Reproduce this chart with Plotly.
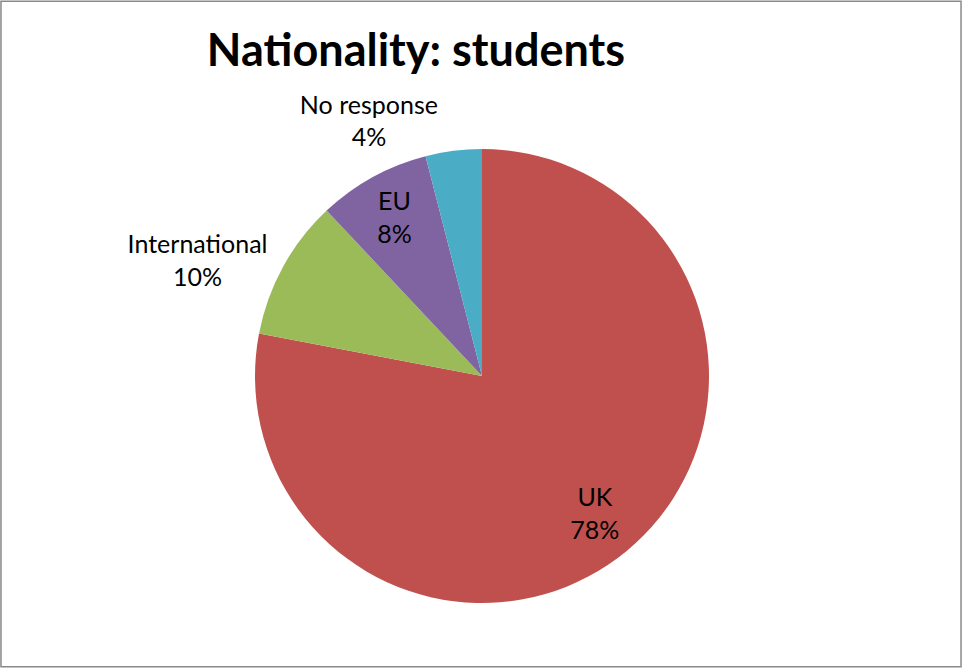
import plotly.graph_objects as go

categories = ["UK", "International", "EU", "No response"]
values = [78, 10, 8, 4]
colors = ["#C0504D", "#9BBB59", "#8064A2", "#4BACC6"]
text_positions = ["inside", "outside", "inside", "outside"]

W, H = 962, 668
cx, cy, r = 482, 376, 227
dom = dict(x=[(cx - r) / W, (cx + r) / W], y=[(H - cy - r) / H, (H - cy + r) / H])
font_family = "Lato, Open Sans, sans-serif"

# Coloured slices
fig = go.Figure(go.Pie(
    labels=categories, values=values, sort=False, direction="clockwise", rotation=0,
    marker=dict(colors=colors, line=dict(width=0)),
    textinfo="none", domain=dom, showlegend=False, hoverinfo="label+percent",
))
# Transparent ring carrying the data labels (so inside labels sit further out)
fig.add_trace(go.Pie(
    labels=categories, values=values, sort=False, direction="clockwise", rotation=0,
    hole=0.56,
    marker=dict(colors=["rgba(0,0,0,0)"] * len(values), line=dict(width=0)),
    texttemplate="%{label}<br>%{percent:.0%}",
    textposition=text_positions,
    insidetextorientation="horizontal",
    textfont=dict(family=font_family, size=25, color="black"),
    insidetextfont=dict(color="black"),
    outsidetextfont=dict(color="black"),
    domain=dom, showlegend=False, hoverinfo="skip",
))

fig.update_layout(
    width=W, height=H,
    margin=dict(l=0, r=0, t=0, b=0),
    paper_bgcolor="white",
    title=dict(text="<b>Nationality: students</b>", x=416 / W, xanchor="center",
               y=1 - 50 / H, yanchor="middle", yref="container",
               font=dict(family=font_family, size=45, color="black")),
    shapes=[dict(type="rect", xref="paper", yref="paper", x0=0.001, x1=0.999, y0=0.002, y1=0.998,
                 line=dict(color="#898989", width=1.5), fillcolor="rgba(0,0,0,0)")],
)

fig.write_html("out.html", config={"displayModeBar": False},
               post_script="document.body.style.margin='0';document.body.style.overflow='hidden';")
